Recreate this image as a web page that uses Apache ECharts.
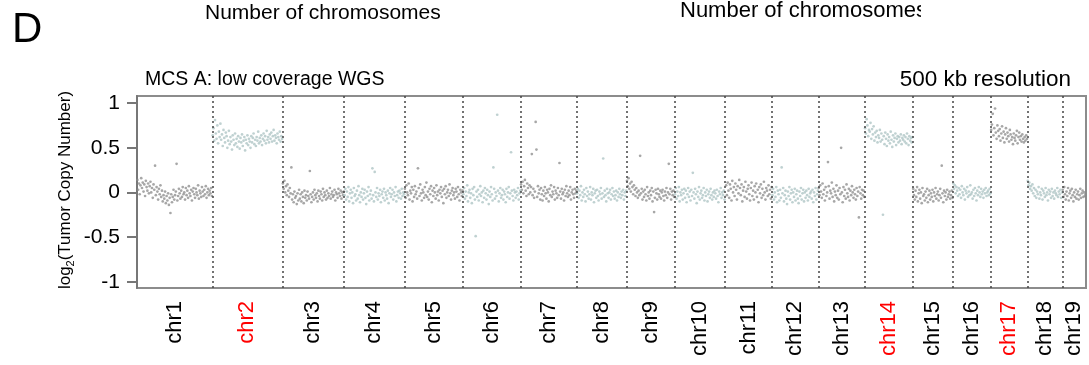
<!DOCTYPE html>
<html>
<head>
<meta charset="utf-8">
<script src="https://cdn.jsdelivr.net/npm/echarts@6/dist/echarts.min.js"></script>
<style>
html,body{margin:0;padding:0;background:#fff;}
#chart{width:1089px;height:365px;}
</style>
</head>
<body>
<div id="chart"></div>
<script>
// Chromosome names and sizes (Mb, mouse mm10)
const chromNames = ['chr1','chr2','chr3','chr4','chr5','chr6','chr7','chr8','chr9','chr10','chr11','chr12','chr13','chr14','chr15','chr16','chr17','chr18','chr19'];
const chromSizes = [195.47,182.11,160.04,156.51,151.83,149.74,145.44,129.40,124.60,130.69,122.08,120.13,120.42,124.90,104.04,98.21,94.99,90.70,61.43];
const redChroms = ['chr2','chr14','chr17'];
const yTicks = [-1,-0.5,0,0.5,1];

// log2 copy number estimates (x100), bins evenly spaced along each chromosome
const chr1 = [14,3,10,-2,8,16,5,11,1,9,-4,13,6,2,10,-1,7,12,0,5,-6,9,3,30,-3,6,1,-8,4,-2,8,-5,2,-10,-3,-7,1,-12,-4,-9,-1,-14,-6,-23,-2,-11,-5,3,-8,-3,1,32,-9,-4,4,-1,-7,2,-5,6,-2,0,-8,5,-3,2,-6,7,-1,-4,3,-9,1,5,-2,-6,4,0,-3,8,-7,2,-1,-5,6,1,-4,3,-2,7,-6,0,4,-3,2,-1,5,-4];
const chr2 = [64,72,58,81,66,60,75,55,68,62,77,59,65,52,70,61,56,67,63,50,58,69,54,62,57,48,64,59,53,66,55,60,51,63,57,49,61,56,65,52,58,62,47,59,55,64,53,60,57,50,63,56,61,66,54,59,52,62,58,68,55,61,57,64,53,60,66,58,63,55,69,59,62,56,65,60,67,57,63,70,58,64,61,55,66,62,59,68,57,63,60];
const chr3 = [10,4,13,0,7,-3,9,2,-5,5,-1,28,-8,-2,-11,1,-6,-4,-13,-1,-9,3,-7,-2,-10,0,-5,-12,2,-6,-3,-9,1,-4,-7,24,-2,-11,-5,0,-8,3,-3,-6,-1,-10,2,-4,-7,1,-2,-9,4,-5,0,-3,-8,2,-6,-1,-4,5,-7,-2,1,-5,-3,3,-9,0,-2,-6,4,-1,-4,2,-7,0,-3,1];
const chr4 = [-3,4,-8,1,-5,6,-10,-1,3,-6,0,-12,5,-4,-2,-9,2,-7,7,-3,-11,0,-5,4,-8,-1,3,-6,-13,1,-4,6,-9,-2,2,-7,27,-3,-10,23,0,-5,5,-8,-1,-4,3,-11,-2,1,-6,4,-9,0,-3,-7,2,-12,-1,5,-5,-2,3,-8,0,-4,6,-10,-3,1,-6,2,-1,-7,4,-4,0,-2];
const chr5 = [4,-6,8,0,-3,10,-8,2,-1,6,-10,3,-5,7,-2,1,-7,27,5,-4,9,-1,-9,3,0,-6,6,-3,11,-5,1,-8,4,-2,7,-11,2,-4,5,0,-7,8,-3,1,-9,3,-1,6,-5,2,-12,4,-2,7,-6,0,3,-4,9,-1,-8,2,5,-3,0,-7,4,1,-5,6,-2,-9,3,0,-4,2];
const chr6 = [-2,5,-7,1,-4,8,-10,0,3,-6,-1,-12,4,-3,6,-8,-49,1,-5,3,-9,-2,7,-4,0,-11,2,-6,5,-1,-8,3,-3,-13,1,-5,6,-2,-9,28,4,-7,0,-4,87,2,-10,-1,5,-6,-3,3,-8,1,-2,-11,4,-5,0,6,-7,-1,45,2,-4,-9,3,0,-6,1,-3,5,-8,-1,2];
const chr7 = [9,3,12,-1,7,14,2,-4,10,5,-2,8,0,6,43,-3,4,-6,1,79,48,-5,7,-1,3,-8,5,-2,-9,2,-4,6,-1,-7,3,0,-10,4,-3,8,-5,1,-2,6,-8,2,-1,-6,5,-3,33,1,-7,4,-2,0,-9,3,-4,7,-1,-5,2,-3,6,-8,0,3,-2,-6,4,-1,2];
const chr8 = [-1,4,-6,2,-3,7,-9,0,-5,3,-2,-10,5,-4,1,-7,-2,6,-8,0,-3,4,-11,-1,2,-6,3,-4,-9,1,-2,5,-7,-1,38,-5,2,-3,-10,4,-1,-6,0,3,-8,-2,5,-4,1,-7,-3,2,-9,0,-5,4,-2,-6,1,-3,3,-8,0,-4,2];
const chr9 = [13,7,16,4,10,1,12,6,-2,8,3,-4,5,0,-6,2,-3,41,-1,4,-8,1,-5,3,-2,-9,6,-4,0,-7,2,-3,5,-10,1,-22,-6,3,-1,-8,4,-2,-5,2,-7,0,3,-4,-9,1,-3,5,-6,0,32,-2,4,-8,1,-3,2,-5];
const chr10 = [-2,5,-7,1,-4,6,-10,0,-3,3,-8,-1,4,-6,2,-11,-2,5,-5,1,-9,3,-4,22,0,-7,4,-2,-12,1,-5,6,-8,-1,2,-6,-3,5,-9,0,-4,3,-10,-2,1,-6,4,-3,-8,0,-5,2,-1,-7,3,-4,-11,1,-2,5,-6,0,-3,2,-8];
const chr11 = [24,8,-3,11,2,-6,9,4,-9,13,0,6,-4,10,3,-8,7,-1,14,5,-3,9,-10,2,6,-5,12,1,-7,4,8,-2,-9,5,11,-4,2,-8,7,0,10,-5,3,-11,6,-1,9,-6,4,-3,12,0,-8,5,2,-4,8,-2,3,-7,6];
const chr12 = [-3,4,-8,0,-5,6,-11,2,-2,-9,3,-6,28,-1,5,-10,-3,2,-7,-13,1,-4,6,-8,-1,3,-11,0,-5,4,-9,-2,2,-7,-12,1,-4,5,-8,-1,3,-10,0,-6,2,-3,-9,4,-5,-1,1,-7,3,-11,0,-4,5,-8,-2,2];
const chr13 = [5,-3,8,1,-6,10,-2,3,-9,6,-4,0,34,7,-7,2,-1,11,-5,4,-10,1,-3,8,-6,2,-8,5,-2,50,0,-11,6,-4,3,-7,9,-1,-5,4,-9,2,-3,7,0,-6,3,-2,-8,5,-4,1,-28,6,-1,-7,3,-3,2,-5];
const chr14 = [72,66,82,75,63,70,68,78,60,71,65,74,58,67,62,69,56,64,61,70,57,66,59,-25,63,54,67,60,52,65,58,62,55,68,59,51,64,57,61,66,53,60,63,56,62,58,65,54,61,59,64,57,62,55,66,60,53,63,58,61,56,62];
const chr15 = [4,-3,-8,2,-5,6,-10,-1,3,-7,0,-12,5,-4,-2,-9,1,-6,4,-11,-3,2,-8,-1,-5,3,-10,0,-4,5,-7,-2,1,-9,-3,4,-6,30,-1,-11,2,-4,0,-8,3,-5,-2,1,-7,-3,2,-6];
const chr16 = [10,4,8,-1,6,2,-4,5,-2,3,-6,7,0,-3,4,-8,2,-1,6,-5,1,-3,8,-2,0,-7,3,-4,5,-1,-9,2,-3,6,0,-5,4,-2,1,-6,3,-1,5,-4,0,2,-3,4,-1];
const chr17 = [70,76,88,64,72,94,67,60,75,69,63,71,58,66,74,61,68,56,65,72,60,67,63,57,70,65,59,62,54,66,61,58,64,69,55,62,67,59,63,57,65,60,56,62,58,64,60];
const chr18 = [13,8,11,4,7,2,9,-1,5,-4,3,-6,1,-2,6,-7,0,-3,4,-8,2,-1,-5,5,-3,0,-9,3,-2,1,-6,4,-4,0,-7,2,-1,-3,5,-5,1,-2,3,-6,0];
const chr19 = [3,-5,6,-2,-8,1,-4,5,-9,-1,2,-6,4,-3,-10,0,-5,3,-7,-2,1,-8,-3,4,-6,-1,2,-5,0,-4,-2];
const copyValues = [chr1,chr2,chr3,chr4,chr5,chr6,chr7,chr8,chr9,chr10,chr11,chr12,chr13,chr14,chr15,chr16,chr17,chr18,chr19];

const FONT = '"Liberation Sans", Arial, Helvetica, sans-serif';
const starts = [];
let acc = 0;
chromSizes.forEach(s => { starts.push(acc); acc += s; });
const total = acc;
const centers = chromSizes.map((s, i) => starts[i] + s / 2);
const boundaries = starts.slice(1);

const darkData = [], lightData = [];
copyValues.forEach((vals, c) => {
  const n = vals.length;
  vals.forEach((v, i) => {
    const pt = [starts[c] + (i + 0.5) * chromSizes[c] / n, v / 100];
    (c % 2 === 0 ? darkData : lightData).push(pt);
  });
});

const chart = echarts.init(document.getElementById('chart'));
chart.setOption({
  animation: false,
  grid: {left: 137, right: 3, top: 96, bottom: 77, show: true, borderColor: '#8c8c8c', borderWidth: 2},
  xAxis: {
    type: 'value', min: 0, max: total,
    axisLine: {show: false}, axisTick: {show: false}, splitLine: {show: false},
    axisLabel: {
      customValues: centers, rotate: 90, margin: 13,
      fontSize: 22, fontFamily: FONT, color: '#000',
      formatter: function (v) {
        let idx = 0, best = Infinity;
        centers.forEach((c, i) => { const d = Math.abs(c - v); if (d < best) { best = d; idx = i; } });
        const nm = chromNames[idx];
        return redChroms.indexOf(nm) >= 0 ? '{r|' + nm + '}' : nm;
      },
      rich: {r: {color: '#ff0000', fontSize: 22, fontFamily: FONT}}
    }
  },
  yAxis: {
    type: 'value', min: -1.07, max: 1.08, offset: 1,
    axisLine: {show: true, lineStyle: {color: '#777', width: 2}},
    axisTick: {show: true, length: 10, customValues: yTicks, lineStyle: {color: '#777', width: 2}},
    axisLabel: {customValues: yTicks, margin: 16, fontSize: 21, fontFamily: FONT, color: '#000'},
    splitLine: {show: false}
  },
  series: [
    {
      type: 'scatter', name: 'dark', data: darkData, symbolSize: 2.7,
      itemStyle: {color: '#8a8a8a', opacity: 0.75},
      markLine: {
        silent: true, symbol: 'none', label: {show: false},
        lineStyle: {color: '#444', width: 1.5, type: [2, 3]},
        data: boundaries.map(b => ({xAxis: b}))
      }
    },
    {
      type: 'scatter', name: 'light', data: lightData, symbolSize: 2.7,
      itemStyle: {color: '#afc6c6', opacity: 0.8}
    }
  ],
  graphic: [
    {type: 'text', x: 12, y: 30, style: {text: 'D', font: '42px ' + FONT, fill: '#000', textAlign: 'left', align: 'left', textVerticalAlign: 'middle', verticalAlign: 'middle'}},
    {type: 'text', x: 205, y: 13, style: {text: 'Number of chromosomes', font: '21px ' + FONT, fill: '#000', textAlign: 'left', align: 'left', textVerticalAlign: 'middle', verticalAlign: 'middle'}},
    {type: 'text', x: 680, y: 11, z: 10, style: {text: 'Number of chromosomes', font: '22px ' + FONT, fill: '#000', textAlign: 'left', align: 'left', textVerticalAlign: 'middle', verticalAlign: 'middle'}},
    {type: 'rect', z: 20, shape: {x: 921, y: 0, width: 40, height: 30}, style: {fill: '#fff'}},
    {type: 'text', x: 145, y: 80, style: {text: 'MCS A: low coverage WGS', font: '19.5px ' + FONT, fill: '#000', textAlign: 'left', align: 'left', textVerticalAlign: 'middle', verticalAlign: 'middle'}},
    {type: 'text', x: 1071, y: 80, style: {text: '500 kb resolution', font: '22.5px ' + FONT, fill: '#000', textAlign: 'right', align: 'right', textVerticalAlign: 'middle', verticalAlign: 'middle'}},
    {type: 'text', x: 65, y: 190, rotation: Math.PI / 2, style: {
      text: '{a|log}{s|2}{a|(Tumor Copy Number)}', textAlign: 'center', align: 'center', textVerticalAlign: 'middle', verticalAlign: 'middle', fill: '#000',
      rich: {a: {fontSize: 17, fontFamily: FONT, lineHeight: 22, verticalAlign: 'middle'}, s: {fontSize: 11, fontFamily: FONT, lineHeight: 22, verticalAlign: 'bottom', padding: [10, 0, 0, 0]}}
    }}
  ]
});
</script>
</body>
</html>
